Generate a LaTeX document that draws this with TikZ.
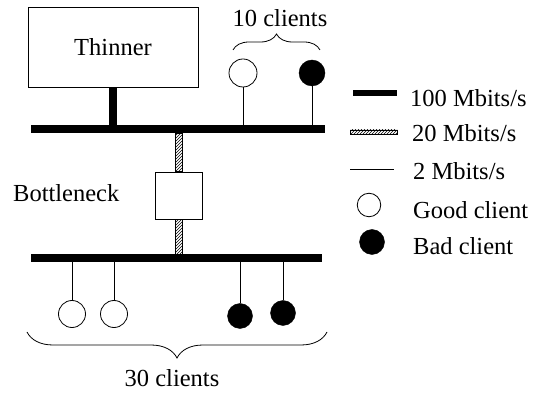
\documentclass[tikz,border=0pt]{standalone}
\usepackage{fontspec}
\setmainfont{Liberation Serif}
\usetikzlibrary{positioning}
\usetikzlibrary{calc}
\usetikzlibrary{patterns}
\usetikzlibrary{decorations.pathreplacing}

\tikzset{
  txt/.style={font=\fontsize{24.5}{28}\selectfont, inner sep=0pt},
  fast/.style={line width=8pt},
  slow/.style={line width=0.8pt},
  hatch/.style={draw, line width=0.6pt, pattern=north east lines},
  good/.style={circle, draw, line width=0.8pt, fill=white, inner sep=0pt, minimum size=27pt},
  bad/.style={circle, draw, fill=black, inner sep=0pt, minimum size=25pt},
  brace/.style={decorate, line width=0.8pt, decoration={brace, amplitude=#1}},
}

\begin{document}
\begin{tikzpicture}[x=1pt, y=-1pt]
  \useasboundingbox (0,0) rectangle (533,395);

  % hosts
  \node [draw, line width=0.8pt, minimum width=170pt, minimum height=80pt, txt] (thinner) at (113,47) {Thinner};
  \node [draw, line width=0.8pt, minimum size=47pt] (bneck) at (178.5,195.5) {};
  \node [txt, anchor=base west] (bnlabel) at (13,202) {Bottleneck};

  % buses
  \coordinate (topa) at (31,129);
  \coordinate (topb) at (325,129);
  \coordinate (bota) at (31,258);
  \coordinate (botb) at (322,258);
  \draw [fast] (topa) -- (topb);
  \draw [fast] (bota) -- (botb);
  \draw [fast] (thinner.south) -- (thinner.south |- topa);
  \draw [hatch] ($(bneck.north)+(-3.5,0)$) rectangle ($(bneck.north |- topa)+(3.5,4)$);
  \draw [hatch] ($(bneck.south)+(-3.5,0)$) rectangle ($(bneck.south |- bota)+(3.5,-4)$);

  % clients on the upper side
  \node [good, minimum size=28pt] (tg) at (243,73) {};
  \node [bad, minimum size=26pt] (tb) at (312,73) {};
  \draw [slow] (tg.south) -- (tg.south |- topa);
  \draw [slow] (tb.south) -- (tb.south |- topa);
  \coordinate (tbra) at (233,50);
  \coordinate (tbrb) at (320,50);
  \draw [brace=16pt] (tbra) -- (tbrb);
  \node [txt, anchor=base] (tcount) at (280,27) {10 clients};

  % clients on the lower side
  \node [good] (bg1) at (72,314) {};
  \node [good] (bg2) at (114,314) {};
  \node [bad] (bb1) at (240,316) {};
  \node [bad] (bb2) at (283,313) {};
  \foreach \c in {bg1,bg2,bb1,bb2}
    \draw [slow] (\c.north) -- (\c.north |- bota);
  \coordinate (bbra) at (327,332);
  \coordinate (bbrb) at (27,332);
  \draw [brace=26pt] (bbra) -- (bbrb);
  \node [txt, anchor=base] (bcount) at (172,387) {30 clients};

  % legend
  \coordinate (k1a) at (353,93.5);
  \coordinate (k1b) at (397,93.5);
  \draw [fast, line width=6pt] (k1a) -- (k1b);
  \node [txt, anchor=base west] (l1) at (410,107) {100 Mbits/s};
  \coordinate (k2a) at (350,130);
  \coordinate (k2b) at (397,134);
  \draw [hatch] (k2a) rectangle (k2b);
  \node [txt, anchor=base west] (l2) at (412,142) {20 Mbits/s};
  \coordinate (k3a) at (350,169);
  \coordinate (k3b) at (394,169);
  \draw [slow] (k3a) -- (k3b);
  \node [txt, anchor=base west] (l3) at (413,180) {2 Mbits/s};
  \node [good, minimum size=23.5pt] (k4) at (369,205) {};
  \node [txt, anchor=base west] (l4) at (413,219) {Good client};
  \node [bad] (k5) at (372,242) {};
  \node [txt, anchor=base west] (l5) at (413,255) {Bad client};
\end{tikzpicture}
\end{document}
